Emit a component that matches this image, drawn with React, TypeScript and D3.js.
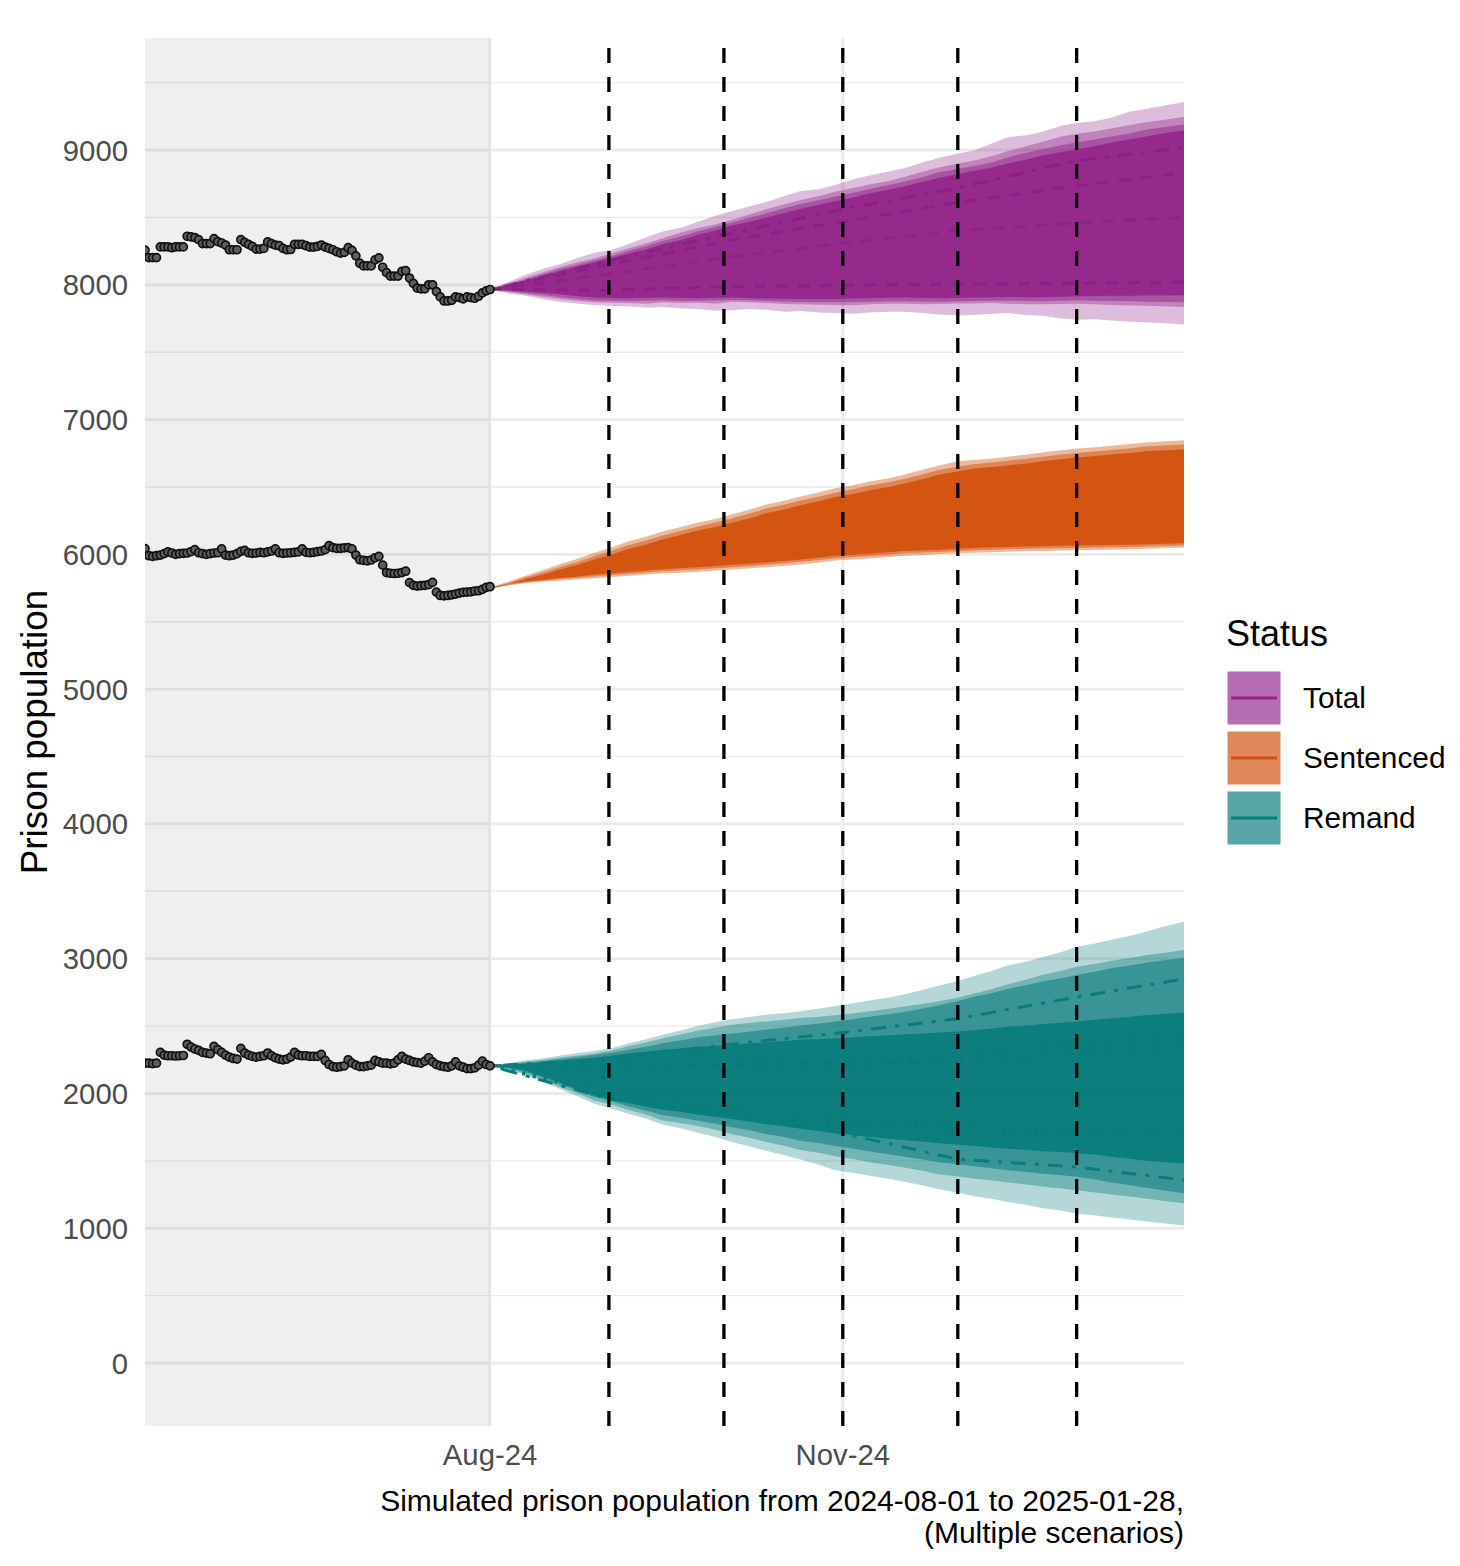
import React from 'react';
import * as d3 from 'd3';

const W = 1460;
const H = 1566;
const PANEL = { left: 145, right: 1184, top: 38, bottom: 1426 };

// ---------- data ----------
const histStart = new Date(2024, 4, 3);
const forecastStart = new Date(2024, 7, 1);
const xDomainDates = [new Date(2024, 4, 3), new Date(2025, 0, 29)];
const yDomainValues = [-467, 9831];

const yMajorTicks = [0, 1000, 2000, 3000, 4000, 5000, 6000, 7000, 8000, 9000];
const yMinorTicks = [500, 1500, 2500, 3500, 4500, 5500, 6500, 7500, 8500, 9500];
const xTickDates = [new Date(2024, 7, 1), new Date(2024, 10, 1)];
const xTickLabels = ['Aug-24', 'Nov-24'];
const monthLineDates = [
  new Date(2024, 8, 1),
  new Date(2024, 9, 1),
  new Date(2024, 10, 1),
  new Date(2024, 11, 1),
  new Date(2025, 0, 1),
];

const histTotal = [
  8257, 8202, 8202, 8202, 8281, 8281, 8281, 8275, 8281, 8281, 8281,
  8360, 8355, 8350, 8335, 8306, 8306, 8306,
  8343, 8320, 8310, 8295, 8260, 8260, 8260,
  8335, 8315, 8300, 8285, 8265, 8265, 8270,
  8318, 8305, 8295, 8290, 8270, 8260, 8262,
  8300, 8300, 8300, 8290, 8280, 8280, 8285,
  8295, 8280, 8270, 8260, 8245, 8235, 8240,
  8275, 8255, 8215, 8160, 8140, 8140, 8140,
  8185, 8200, 8130, 8090, 8065, 8065, 8065,
  8100, 8105, 8050, 8010, 7975, 7970, 7970,
  8000, 8000, 7950, 7910, 7880, 7880, 7885,
  7910, 7905, 7895, 7910, 7905, 7900, 7915,
  7940, 7955, 7965,
];

const histSentenced = [
  6043, 5990, 5985, 5990, 5995, 6005, 6018, 6010, 6000, 6005, 6008,
  6010, 6020, 6035, 6012, 6005, 6000, 6005,
  6010, 6012, 6040, 5995, 5990, 5995, 6005,
  6022, 6030, 6012, 6008, 6010, 6015, 6012,
  6018, 6025, 6040, 6012, 6008, 6010, 6012,
  6015, 6018, 6040, 6015, 6012, 6015, 6020,
  6025, 6035, 6065, 6050, 6045, 6045, 6048,
  6050, 6040, 5995, 5960, 5955, 5952, 5958,
  5975, 5985, 5920, 5865, 5860, 5858, 5860,
  5865, 5875, 5790, 5770, 5765, 5768, 5770,
  5775, 5792, 5720, 5695, 5692, 5695, 5700,
  5705, 5712, 5718, 5720, 5722, 5728, 5730,
  5740, 5755, 5760,
];

const histRemand = [
  2225, 2225, 2222, 2225, 2305, 2285, 2280, 2280, 2278, 2280, 2282,
  2365, 2345, 2330, 2320, 2305, 2300, 2295,
  2350, 2325, 2305, 2285, 2270, 2260, 2255,
  2335, 2300, 2285, 2275, 2270, 2275, 2280,
  2300, 2280, 2265, 2255, 2250, 2255, 2270,
  2305, 2285, 2280, 2280, 2275, 2275, 2275,
  2290, 2245, 2215, 2200, 2195, 2200, 2205,
  2250, 2225, 2210, 2200, 2200, 2205, 2210,
  2245, 2235, 2225, 2225, 2220, 2225, 2250,
  2275, 2255, 2245, 2235, 2230, 2225, 2240,
  2265, 2235, 2215, 2205, 2200, 2195, 2205,
  2235, 2205, 2195, 2185, 2185, 2190, 2210,
  2240, 2215, 2205,
];

// forecast sample days (offset from 2024-08-01)
const fcDays = [0, 5, 9, 14, 18, 23, 27, 32, 36, 41, 45, 50, 54, 59, 63, 68, 72, 77, 81, 86, 90, 95, 99, 104, 108, 113, 117, 122, 126, 131, 135, 140, 144, 149, 153, 158, 162, 167, 171, 176, 181];

// Total bands (outer -> core)
const totalOuterHi = [7965, 8025, 8070, 8120, 8150, 8200, 8235, 8262, 8300, 8355, 8395, 8425, 8465, 8515, 8545, 8585, 8615, 8660, 8695, 8710, 8740, 8785, 8810, 8840, 8865, 8910, 8940, 8975, 8995, 9050, 9095, 9110, 9135, 9180, 9200, 9215, 9240, 9285, 9305, 9330, 9357];
const totalOuterLo = [7965, 7935, 7920, 7890, 7875, 7860, 7850, 7842, 7840, 7830, 7835, 7825, 7820, 7808, 7812, 7820, 7815, 7800, 7805, 7795, 7790, 7785, 7795, 7800, 7800, 7790, 7780, 7772, 7775, 7785, 7790, 7775, 7770, 7750, 7740, 7745, 7735, 7725, 7722, 7715, 7705];
const totalMidHi = [7965, 8010, 8050, 8095, 8130, 8170, 8195, 8235, 8270, 8310, 8345, 8390, 8420, 8450, 8480, 8525, 8560, 8600, 8630, 8660, 8690, 8720, 8745, 8770, 8800, 8840, 8870, 8900, 8920, 8955, 8990, 9030, 9060, 9100, 9120, 9140, 9160, 9185, 9205, 9225, 9246];
const totalMidLo = [7965, 7945, 7930, 7910, 7895, 7880, 7870, 7866, 7865, 7860, 7870, 7865, 7868, 7860, 7875, 7870, 7865, 7858, 7855, 7852, 7850, 7848, 7855, 7860, 7860, 7855, 7858, 7862, 7862, 7865, 7860, 7855, 7855, 7858, 7860, 7855, 7850, 7846, 7845, 7840, 7835];
const totalInnerHi = [7965, 8000, 8040, 8080, 8115, 8150, 8180, 8215, 8250, 8290, 8325, 8360, 8395, 8430, 8460, 8500, 8530, 8570, 8600, 8630, 8655, 8685, 8710, 8740, 8765, 8800, 8835, 8860, 8880, 8910, 8945, 8980, 9005, 9035, 9055, 9080, 9100, 9125, 9150, 9170, 9190];
const totalInnerLo = [7965, 7952, 7940, 7925, 7910, 7895, 7885, 7882, 7880, 7882, 7885, 7880, 7882, 7884, 7888, 7885, 7880, 7876, 7872, 7870, 7870, 7872, 7875, 7878, 7878, 7876, 7875, 7878, 7880, 7882, 7882, 7880, 7878, 7882, 7885, 7882, 7880, 7878, 7875, 7872, 7870];
const totalCoreHi = [7965, 7995, 8030, 8065, 8100, 8135, 8165, 8200, 8230, 8265, 8300, 8335, 8370, 8405, 8440, 8470, 8500, 8535, 8565, 8595, 8620, 8650, 8680, 8705, 8730, 8765, 8795, 8820, 8845, 8870, 8900, 8930, 8960, 8985, 9005, 9030, 9055, 9080, 9100, 9125, 9147];
const totalCoreLo = [7965, 7958, 7950, 7940, 7930, 7915, 7905, 7902, 7900, 7902, 7905, 7902, 7900, 7903, 7905, 7900, 7898, 7896, 7895, 7895, 7895, 7898, 7900, 7903, 7905, 7902, 7900, 7902, 7905, 7908, 7910, 7908, 7908, 7912, 7915, 7916, 7918, 7919, 7920, 7921, 7922];

// Sentenced bands
const sentOuterHi = [5755, 5800, 5840, 5885, 5925, 5970, 6010, 6055, 6095, 6135, 6170, 6205, 6235, 6265, 6295, 6335, 6370, 6400, 6430, 6460, 6490, 6515, 6540, 6565, 6590, 6630, 6660, 6690, 6700, 6712, 6725, 6740, 6755, 6772, 6785, 6795, 6805, 6818, 6830, 6840, 6847];
const sentOuterLo = [5745, 5770, 5785, 5798, 5805, 5815, 5822, 5832, 5840, 5850, 5858, 5864, 5870, 5880, 5888, 5896, 5905, 5915, 5925, 5940, 5955, 5962, 5970, 5980, 5990, 5995, 6000, 6008, 6012, 6016, 6020, 6023, 6025, 6028, 6030, 6032, 6035, 6038, 6042, 6046, 6050];
const sentMidHi = [5755, 5790, 5828, 5868, 5905, 5945, 5985, 6028, 6068, 6105, 6140, 6175, 6205, 6238, 6268, 6305, 6340, 6370, 6400, 6430, 6458, 6485, 6510, 6535, 6560, 6595, 6625, 6650, 6668, 6682, 6695, 6710, 6725, 6740, 6752, 6765, 6775, 6788, 6800, 6808, 6815];
const sentMidLo = [5745, 5775, 5792, 5805, 5815, 5826, 5835, 5846, 5855, 5865, 5875, 5882, 5888, 5896, 5905, 5914, 5922, 5934, 5945, 5958, 5972, 5980, 5988, 5998, 6008, 6013, 6018, 6025, 6030, 6034, 6038, 6041, 6043, 6046, 6048, 6050, 6052, 6055, 6058, 6062, 6065];
const sentCoreHi = [5752, 5780, 5815, 5850, 5885, 5922, 5960, 6000, 6040, 6075, 6110, 6145, 6175, 6205, 6235, 6270, 6305, 6335, 6365, 6395, 6425, 6450, 6475, 6500, 6525, 6560, 6590, 6615, 6635, 6648, 6660, 6675, 6690, 6705, 6718, 6730, 6740, 6752, 6765, 6772, 6780];
const sentCoreLo = [5748, 5780, 5798, 5812, 5825, 5836, 5848, 5860, 5870, 5880, 5890, 5898, 5905, 5914, 5922, 5931, 5940, 5951, 5962, 5976, 5990, 5998, 6005, 6015, 6025, 6030, 6035, 6042, 6048, 6052, 6055, 6058, 6060, 6063, 6065, 6068, 6070, 6072, 6075, 6078, 6082];

// Remand bands
const remOuterHi = [2205, 2225, 2245, 2262, 2280, 2300, 2315, 2340, 2370, 2405, 2435, 2470, 2500, 2530, 2550, 2570, 2585, 2598, 2610, 2630, 2650, 2672, 2690, 2712, 2735, 2770, 2800, 2835, 2870, 2910, 2950, 2980, 3010, 3050, 3089, 3115, 3140, 3170, 3200, 3240, 3274];
const remOuterLo = [2205, 2170, 2140, 2085, 2035, 1975, 1925, 1885, 1850, 1810, 1770, 1740, 1710, 1675, 1640, 1605, 1575, 1540, 1510, 1470, 1430, 1410, 1390, 1368, 1345, 1318, 1290, 1265, 1240, 1218, 1195, 1172, 1150, 1130, 1110, 1095, 1080, 1065, 1050, 1035, 1020];
const remMidHi = [2205, 2220, 2235, 2250, 2265, 2282, 2295, 2320, 2350, 2380, 2410, 2440, 2465, 2490, 2510, 2525, 2535, 2548, 2560, 2570, 2580, 2595, 2610, 2628, 2645, 2665, 2685, 2710, 2740, 2775, 2810, 2845, 2880, 2910, 2940, 2962, 2985, 3005, 3025, 3045, 3064];
const remMidLo = [2205, 2180, 2150, 2100, 2050, 2000, 1950, 1915, 1880, 1840, 1800, 1780, 1760, 1730, 1700, 1670, 1640, 1610, 1580, 1558, 1535, 1512, 1490, 1470, 1450, 1425, 1400, 1385, 1370, 1355, 1340, 1325, 1310, 1296, 1283, 1266, 1250, 1235, 1220, 1202, 1185];
const remInnerHi = [2205, 2215, 2228, 2240, 2255, 2270, 2285, 2305, 2325, 2348, 2372, 2395, 2415, 2432, 2445, 2460, 2475, 2490, 2505, 2520, 2535, 2552, 2570, 2588, 2605, 2630, 2655, 2685, 2715, 2745, 2775, 2805, 2830, 2855, 2880, 2905, 2930, 2950, 2970, 2988, 3005];
const remInnerLo = [2205, 2185, 2160, 2115, 2070, 2020, 1975, 1940, 1905, 1870, 1840, 1820, 1800, 1775, 1750, 1725, 1700, 1675, 1650, 1630, 1610, 1590, 1570, 1550, 1530, 1510, 1490, 1475, 1460, 1445, 1430, 1418, 1405, 1393, 1382, 1362, 1340, 1320, 1300, 1280, 1259];
const remCoreHi = [2205, 2212, 2220, 2232, 2245, 2255, 2265, 2282, 2298, 2312, 2325, 2335, 2345, 2355, 2362, 2372, 2380, 2390, 2398, 2405, 2410, 2418, 2425, 2432, 2440, 2446, 2452, 2460, 2470, 2482, 2495, 2505, 2515, 2525, 2535, 2548, 2558, 2570, 2580, 2590, 2600];
const remCoreLo = [2205, 2190, 2172, 2125, 2085, 2030, 1985, 1955, 1930, 1900, 1880, 1862, 1845, 1825, 1810, 1790, 1772, 1755, 1738, 1720, 1705, 1690, 1678, 1665, 1655, 1642, 1630, 1620, 1612, 1600, 1590, 1580, 1572, 1565, 1558, 1545, 1530, 1515, 1502, 1490, 1480];

// scenario median lines (monthly points)
const medDays = [0, 31, 61, 92, 122, 153, 181];
const remDotdashHi = [2205, 2255, 2360, 2452, 2555, 2716, 2850];
const remDotdashLo = [2205, 1960, 1858, 1705, 1512, 1455, 1358];
const remDashedA = [2205, 2210, 2215, 2232, 2268, 2372, 2419];
const remDashedB = [2205, 2200, 2205, 2215, 2240, 2300, 2345];
const remDottedA = [2205, 1990, 1850, 1770, 1730, 1706, 1669];
const remDottedB = [2205, 2020, 1900, 1810, 1760, 1740, 1728];
const totDotdashHi = [7965, 8180, 8370, 8560, 8720, 8920, 9020];
const totDashedA = [7965, 8150, 8320, 8470, 8610, 8735, 8830];
const totDashedB = [7965, 8080, 8200, 8310, 8400, 8460, 8500];
const totDashedLo = [7965, 7960, 7985, 7995, 8005, 8012, 8020];

const statusNames = ['Total', 'Sentenced', 'Remand'];
const statusColors = ['#92268A', '#D2500A', '#097C7C'];

const FONT = '"Liberation Sans", Arial, Helvetica, sans-serif';

export default function App() {
  const x = d3.scaleTime().domain(xDomainDates).range([PANEL.left, PANEL.right]);
  const y = d3.scaleLinear().domain(yDomainValues).range([PANEL.bottom, PANEL.top]);

  const histDates = histTotal.map((_, i) => d3.timeDay.offset(histStart, i));
  const fcDates = fcDays.map((d) => d3.timeDay.offset(forecastStart, d));
  const medDates = medDays.map((d) => d3.timeDay.offset(forecastStart, d));

  const area = (lo: number[], hi: number[]) =>
    d3
      .area<number>()
      .x((i) => x(fcDates[i]))
      .y0((i) => y(lo[i]))
      .y1((i) => y(hi[i]))(fcDays.map((_, i) => i)) || '';

  const line = (vals: number[]) =>
    d3
      .line<number>()
      .x((i) => x(medDates[i]))
      .y((i) => y(vals[i]))(medDays.map((_, i) => i)) || '';

  const bands: { lo: number[]; hi: number[]; color: string; op: number }[] = [
    { lo: totalOuterLo, hi: totalOuterHi, color: statusColors[0], op: 0.3 },
    { lo: totalMidLo, hi: totalMidHi, color: statusColors[0], op: 0.38 },
    { lo: totalInnerLo, hi: totalInnerHi, color: statusColors[0], op: 0.5 },
    { lo: totalCoreLo, hi: totalCoreHi, color: statusColors[0], op: 0.9 },
    { lo: sentOuterLo, hi: sentOuterHi, color: statusColors[1], op: 0.4 },
    { lo: sentMidLo, hi: sentMidHi, color: statusColors[1], op: 0.5 },
    { lo: sentCoreLo, hi: sentCoreHi, color: statusColors[1], op: 0.9 },
    { lo: remOuterLo, hi: remOuterHi, color: statusColors[2], op: 0.3 },
    { lo: remMidLo, hi: remMidHi, color: statusColors[2], op: 0.38 },
    { lo: remInnerLo, hi: remInnerHi, color: statusColors[2], op: 0.55 },
    { lo: remCoreLo, hi: remCoreHi, color: statusColors[2], op: 0.95 },
  ];

  const DOTDASH = '4 9 15 9';
  const DASHED = '12 10';
  const DOTTED = '3 8';
  const medLines: { vals: number[]; color: string; dash: string; op: number }[] = [
    { vals: totDotdashHi, color: '#861d7e', dash: DOTDASH, op: 0.7 },
    { vals: totDashedA, color: '#861d7e', dash: DASHED, op: 0.6 },
    { vals: totDashedB, color: '#861d7e', dash: DASHED, op: 0.5 },
    { vals: totDashedLo, color: '#861d7e', dash: DASHED, op: 0.6 },
    { vals: remDotdashHi, color: statusColors[2], dash: DOTDASH, op: 1 },
    { vals: remDotdashLo, color: statusColors[2], dash: DOTDASH, op: 1 },
    { vals: remDashedA, color: statusColors[2], dash: DASHED, op: 1 },
    { vals: remDashedB, color: statusColors[2], dash: DASHED, op: 1 },
    { vals: remDottedA, color: statusColors[2], dash: DOTTED, op: 1 },
    { vals: remDottedB, color: statusColors[2], dash: DOTTED, op: 1 },
  ];

  const histSeries = [histTotal, histSentenced, histRemand];

  const legendX = 1227;
  const legendKeyY = 671;
  const legendKey = 54;
  const legendPitch = 60;

  return (
    <svg
      width={W}
      height={H}
      viewBox={`0 0 ${W} ${H}`}
      style={{ position: 'absolute', left: 0, top: 0, display: 'block', background: '#fff' }}
      fontFamily={FONT}
    >
      <defs>
        <clipPath id="panel-clip">
          <rect x={PANEL.left} y={PANEL.top} width={PANEL.right - PANEL.left} height={PANEL.bottom - PANEL.top} />
        </clipPath>
      </defs>
      <rect x={0} y={0} width={W} height={H} fill="#ffffff" />

      {/* grid */}
      <g>
        {yMinorTicks.map((t) => (
          <line key={'mi' + t} x1={PANEL.left} x2={PANEL.right} y1={y(t)} y2={y(t)} stroke="#EBEBEB" strokeWidth={1.4} />
        ))}
        {yMajorTicks.map((t) => (
          <line key={'ma' + t} x1={PANEL.left} x2={PANEL.right} y1={y(t)} y2={y(t)} stroke="#EBEBEB" strokeWidth={2.8} />
        ))}
        {xTickDates.map((d, i) => (
          <line key={'vx' + i} x1={x(d)} x2={x(d)} y1={PANEL.top} y2={PANEL.bottom} stroke="#EBEBEB" strokeWidth={2.8} />
        ))}
      </g>

      {/* history shading */}
      <rect
        x={PANEL.left}
        y={PANEL.top}
        width={x(forecastStart) - PANEL.left}
        height={PANEL.bottom - PANEL.top}
        fill="rgb(127,127,127)"
        fillOpacity={0.12}
      />

      <g clipPath="url(#panel-clip)">
        {bands.map((b, i) => (
          <path key={'b' + i} d={area(b.lo, b.hi)} fill={b.color} fillOpacity={b.op} stroke="none" />
        ))}
        {medLines.map((m, i) => (
          <path
            key={'m' + i}
            d={line(m.vals)}
            fill="none"
            stroke={m.color}
            strokeOpacity={m.op}
            strokeWidth={3}
            strokeDasharray={m.dash}
          />
        ))}
        {histSeries.map((s, si) =>
          s.map((v, i) => (
            <circle
              key={'p' + si + '-' + i}
              cx={x(histDates[i])}
              cy={y(v)}
              r={4}
              fill="#5E5E5E"
              stroke="#111111"
              strokeWidth={1.7}
            />
          ))
        )}
        {monthLineDates.map((d, i) => (
          <line
            key={'vl' + i}
            x1={x(d)}
            x2={x(d)}
            y1={PANEL.bottom}
            y2={PANEL.top}
            stroke="#000"
            strokeWidth={3.3}
            strokeDasharray="15 14"
          />
        ))}
      </g>

      {/* y axis labels */}
      <g fill="#4D4D4D" fontSize={29.3} textAnchor="end">
        {yMajorTicks.map((t) => (
          <text key={'yl' + t} x={128} y={y(t) + 10.5}>
            {t}
          </text>
        ))}
      </g>
      {/* x axis labels */}
      <g fill="#4D4D4D" fontSize={29.3} textAnchor="middle">
        {xTickDates.map((d, i) => (
          <text key={'xl' + i} x={x(d)} y={1465}>
            {xTickLabels[i]}
          </text>
        ))}
      </g>

      {/* axis titles */}
      <text x={PANEL.right} y={1511} fontSize={30} textAnchor="end" fill="#000">
        Simulated prison population from 2024-08-01 to 2025-01-28,
      </text>
      <text x={PANEL.right} y={1543} fontSize={30} textAnchor="end" fill="#000">
        (Multiple scenarios)
      </text>
      <text
        transform={`translate(47, ${(PANEL.top + PANEL.bottom) / 2}) rotate(-90)`}
        fontSize={36.8}
        textAnchor="middle"
        fill="#000"
      >
        Prison population
      </text>

      {/* legend */}
      <text x={legendX - 1} y={646} fontSize={36} fill="#000">
        Status
      </text>
      {statusNames.map((name, i) => {
        const ky = legendKeyY + i * legendPitch;
        return (
          <g key={'lg' + name}>
            <rect x={legendX} y={ky} width={legendKey} height={legendKey} fill={statusColors[i]} fillOpacity={0.68} stroke="#ffffff" strokeWidth={1} />
            <line x1={legendX + 4} x2={legendX + legendKey - 4} y1={ky + legendKey / 2} y2={ky + legendKey / 2} stroke={statusColors[i]} strokeWidth={3} />
            <text x={1303} y={ky + legendKey / 2 + 10} fontSize={29.8} fill="#000">
              {name}
            </text>
          </g>
        );
      })}
    </svg>
  );
}
